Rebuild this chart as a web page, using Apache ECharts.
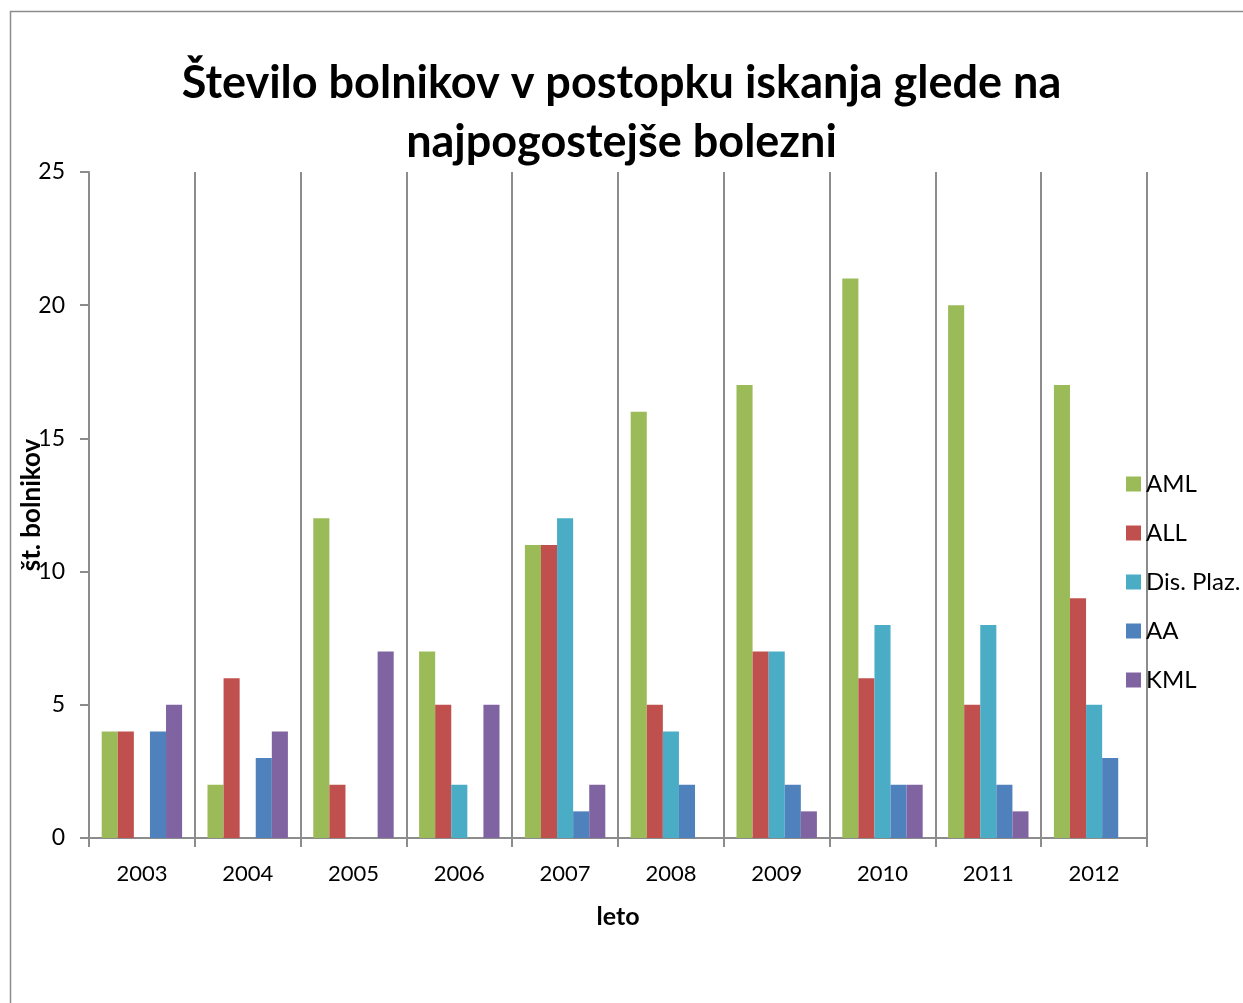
<!DOCTYPE html>
<html>
<head>
<meta charset="utf-8">
<script src="https://cdn.jsdelivr.net/npm/echarts@6/dist/echarts.min.js"></script>
<style>
  html, body { margin: 0; padding: 0; background: #fff; overflow: hidden; }
  #chart { width: 1243px; height: 1003px; }
</style>
</head>
<body>
<div id="chart"></div>
<script>
const years = ["2003", "2004", "2005", "2006", "2007", "2008", "2009", "2010", "2011", "2012"];
const aml = [4, 2, 12, 7, 11, 16, 17, 21, 20, 17];
const all = [4, 6, 2, 5, 11, 5, 7, 6, 5, 9];
const disPlaz = [0, 0, 0, 2, 12, 4, 7, 8, 8, 5];
const aa = [4, 3, 0, 0, 1, 2, 2, 2, 2, 3];
const kml = [5, 4, 7, 5, 2, 0, 1, 2, 1, 0];

const font = "Lato, 'Noto Sans', sans-serif";
const gray = "#8c8c8c";

function bar(name, data, color) {
  return {
    name: name,
    type: "bar",
    data: data,
    barGap: 0,
    barCategoryGap: "24%",
    itemStyle: { color: color },
  };
}

const chart = echarts.init(document.getElementById("chart"));
chart.setOption({
  animation: false,
  textStyle: { fontFamily: font },
  graphic: [
    {
      type: "rect",
      shape: { x: 10.5, y: 11.5, width: 1300, height: 1100 },
      style: { fill: "none", stroke: gray, lineWidth: 1.5 },
    },
  ],
  title: {
    text: "Število bolnikov v postopku iskanja glede na\nnajpogostejše bolezni",
    left: "center",
    top: 49,
    textStyle: { fontSize: 45, fontWeight: "bold", color: "#000", lineHeight: 59, fontFamily: font },
  },
  legend: {
    orient: "vertical",
    left: 1121,
    top: 467,
    itemWidth: 15,
    itemHeight: 15,
    itemGap: 25,
    icon: "rect",
    textStyle: { fontSize: 24, color: "#000", padding: [0, 0, 0, 0], fontFamily: font },
    data: ["AML", "ALL", "Dis. Plaz.", "AA", "KML"],
  },
  grid: { left: 89, right: 96, top: 172, bottom: 165, outerBoundsMode: "none", containLabel: false },
  xAxis: {
    type: "category",
    data: years,
    name: "leto",
    nameLocation: "middle",
    nameGap: 66,
    nameMoveOverlap: false,
    nameTextStyle: { fontSize: 25, fontWeight: "bold", color: "#000" },
    axisLine: { lineStyle: { color: gray, width: 2 } },
    axisTick: { show: true, length: 9, lineStyle: { color: gray, width: 2 } },
    axisLabel: { fontSize: 22, color: "#000", margin: 25 },
    splitLine: { show: true, lineStyle: { color: gray, width: 2 } },
  },
  yAxis: {
    type: "value",
    min: 0,
    max: 25,
    interval: 5,
    name: "št. bolnikov",
    nameLocation: "middle",
    nameGap: 44,
    nameMoveOverlap: false,
    nameTextStyle: { fontSize: 26, fontWeight: "bold", color: "#000" },
    axisLine: { show: true, lineStyle: { color: gray, width: 2 } },
    axisTick: { show: true, length: 9, lineStyle: { color: gray, width: 2 } },
    axisLabel: { fontSize: 23, color: "#000", margin: 24 },
    splitLine: { show: false },
  },
  series: [
    bar("AML", aml, "#9BBB59"),
    bar("ALL", all, "#C0504D"),
    bar("Dis. Plaz.", disPlaz, "#4BACC6"),
    bar("AA", aa, "#4F81BD"),
    bar("KML", kml, "#8064A2"),
  ],
});
</script>
</body>
</html>
